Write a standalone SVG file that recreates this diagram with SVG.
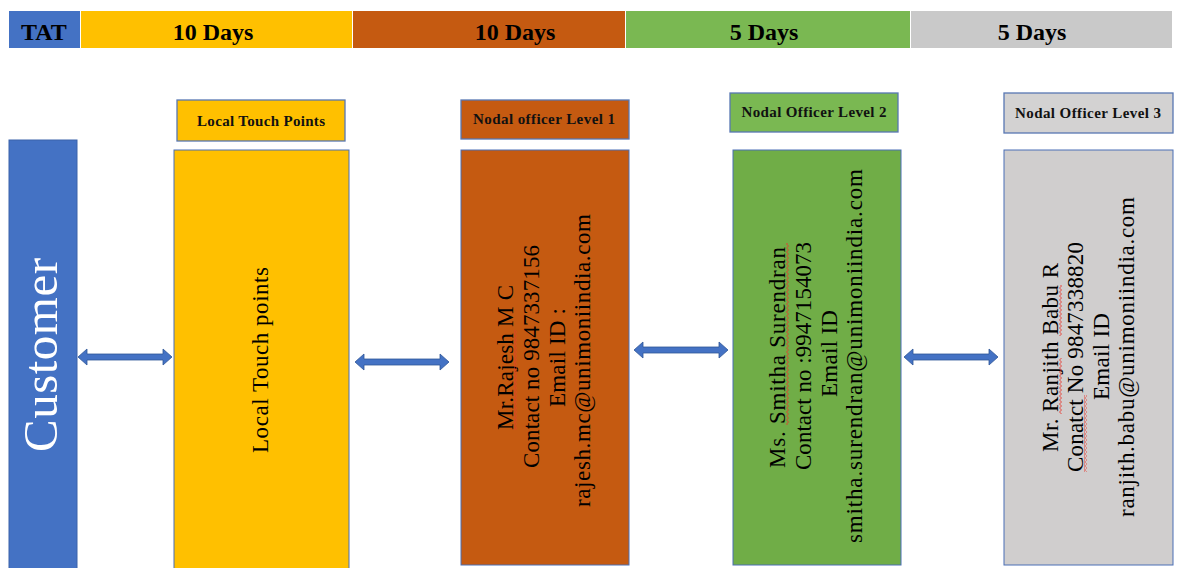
<svg xmlns="http://www.w3.org/2000/svg" width="1184" height="568" viewBox="0 0 1184 568">
  <defs>
    <!-- spell-check style wavy underline, runs vertically for rotated text -->
    <pattern id="squig" width="3" height="4" patternUnits="userSpaceOnUse">
      <path d="M0.5,0 L2.5,2 L0.5,4" stroke="#E8382E" stroke-width="0.9" fill="none"/>
    </pattern>
    <path id="dbl-arrow" d="M0,0 L9,-8 L9,-3 L85,-3 L85,-8 L94,0 L85,8 L85,3 L9,3 L9,8 Z"/>
  </defs>
  <style>
    .bar-text { font-family: "Liberation Serif", "Times New Roman", serif; font-size: 24px; font-weight: bold; fill: #000; text-anchor: middle; }
    .head { stroke: #5877B3; stroke-width: 1.3; }
    .box { stroke: #4A6FB5; stroke-width: 1; }
    .head-text { font-family: "Liberation Serif", "Times New Roman", serif; font-size: 15px; font-weight: bold; fill: #111; text-anchor: middle; }
    .body-text { font-family: "Liberation Serif", "Times New Roman", serif; font-size: 23px; fill: #000; text-anchor: middle; }
    .arrow { fill: #4472C4; stroke: #2F5597; stroke-width: 0.8; }
  </style>
  <rect width="1184" height="568" fill="#FFFFFF"/>

  <!-- TAT timeline bar -->
  <g id="tat-bar">
    <rect x="9" y="11" width="71" height="37" fill="#4472C4"/>
    <rect x="81" y="11" width="271" height="37" fill="#FFC000"/>
    <rect x="353" y="11" width="272" height="37" fill="#C55A11"/>
    <rect x="626" y="11" width="284" height="37" fill="#7AB852"/>
    <rect x="911" y="11" width="261" height="37" fill="#C9C9C9"/>
    <text class="bar-text" x="44" y="40">TAT</text>
    <text class="bar-text" x="213" y="40">10 Days</text>
    <text class="bar-text" x="515" y="40">10 Days</text>
    <text class="bar-text" x="764" y="40">5 Days</text>
    <text class="bar-text" x="1032" y="40">5 Days</text>
  </g>

  <!-- Customer -->
  <g id="customer">
    <rect x="9" y="140" width="68" height="432" fill="#4472C4" stroke="#3A62AA" stroke-width="1"/>
    <text transform="translate(57,355) rotate(-90)" x="0" y="0" text-anchor="middle" font-family="Liberation Serif, serif" font-size="49" fill="#FFFFFF" textLength="194" lengthAdjust="spacing">Customer</text>
  </g>

  <!-- Local touch points -->
  <g id="local-touch-points">
    <rect class="head" x="177" y="100" width="168" height="41" fill="#FFC000"/>
    <text class="head-text" x="261" y="126" textLength="128" lengthAdjust="spacing">Local Touch Points</text>
    <rect class="box" x="174" y="150" width="175" height="425" fill="#FFC000"/>
    <text class="body-text" transform="translate(268,360) rotate(-90)" font-size="24" textLength="186" lengthAdjust="spacing">Local Touch points</text>
  </g>

  <!-- Nodal officer level 1 -->
  <g id="nodal-level-1">
    <rect class="head" x="461" y="100" width="168" height="39" fill="#C55A11"/>
    <text class="head-text" x="544" y="124" textLength="142" lengthAdjust="spacing">Nodal officer Level 1</text>
    <rect class="box" x="461" y="150" width="168" height="415" fill="#C55A11"/>
    <text class="body-text" transform="translate(513,357.5) rotate(-90)" textLength="145" lengthAdjust="spacing">Mr.Rajesh M C</text>
    <text class="body-text" transform="translate(539,356.5) rotate(-90)" textLength="223" lengthAdjust="spacing">Contact no 9847337156</text>
    <text class="body-text" transform="translate(565,357.5) rotate(-90)" textLength="99" lengthAdjust="spacing">Email ID :</text>
    <text class="body-text" transform="translate(590,360.5) rotate(-90)" textLength="293" lengthAdjust="spacing">rajesh.mc@unimoniindia.com</text>
    <rect x="514" y="330" width="3" height="100" fill="url(#squig)"/>
  </g>

  <!-- Nodal officer level 2 -->
  <g id="nodal-level-2">
    <rect class="head" x="730" y="93" width="168" height="39" fill="#7AB852"/>
    <text class="head-text" x="814" y="117" textLength="145" lengthAdjust="spacing">Nodal Officer Level 2</text>
    <rect class="box" x="733" y="150" width="168" height="415" fill="#70AD47"/>
    <text class="body-text" transform="translate(785,357.5) rotate(-90)" textLength="221" lengthAdjust="spacing">Ms. Smitha Surendran</text>
    <text class="body-text" transform="translate(811,356) rotate(-90)" textLength="228" lengthAdjust="spacing">Contact no :9947154073</text>
    <text class="body-text" transform="translate(837,353.5) rotate(-90)" textLength="87" lengthAdjust="spacing">Email ID</text>
    <text class="body-text" transform="translate(862,356) rotate(-90)" textLength="374" lengthAdjust="spacing">smitha.surendran@unimoniindia.com</text>
    <rect x="786" y="243" width="3" height="182" fill="url(#squig)"/>
  </g>

  <!-- Nodal officer level 3 -->
  <g id="nodal-level-3">
    <rect class="head" x="1004" y="93" width="169" height="40" fill="#D3D2D2"/>
    <text class="head-text" x="1088" y="118" textLength="146" lengthAdjust="spacing">Nodal Officer Level 3</text>
    <rect class="box" x="1004" y="150" width="169" height="415" fill="#D0CECE"/>
    <text class="body-text" transform="translate(1058,357.5) rotate(-90)" textLength="189" lengthAdjust="spacing">Mr. Ranjith Babu R</text>
    <text class="body-text" transform="translate(1083,357) rotate(-90)" textLength="230" lengthAdjust="spacing">Conatct No 9847338820</text>
    <text class="body-text" transform="translate(1109,356.5) rotate(-90)" textLength="87" lengthAdjust="spacing">Email ID</text>
    <text class="body-text" transform="translate(1134,357) rotate(-90)" textLength="320" lengthAdjust="spacing">ranjith.babu@unimoniindia.com</text>
    <rect x="1059" y="358" width="3" height="56" fill="url(#squig)"/>
    <rect x="1059" y="285" width="3" height="51" fill="url(#squig)"/>
    <rect x="1084" y="395" width="3" height="77" fill="url(#squig)"/>
  </g>

  <!-- two-way connectors -->
  <g id="connectors">
    <use href="#dbl-arrow" class="arrow" transform="translate(78,357)"/>
    <use href="#dbl-arrow" class="arrow" transform="translate(355,362)"/>
    <use href="#dbl-arrow" class="arrow" transform="translate(634,350)"/>
    <use href="#dbl-arrow" class="arrow" transform="translate(904,357)"/>
  </g>
</svg>
